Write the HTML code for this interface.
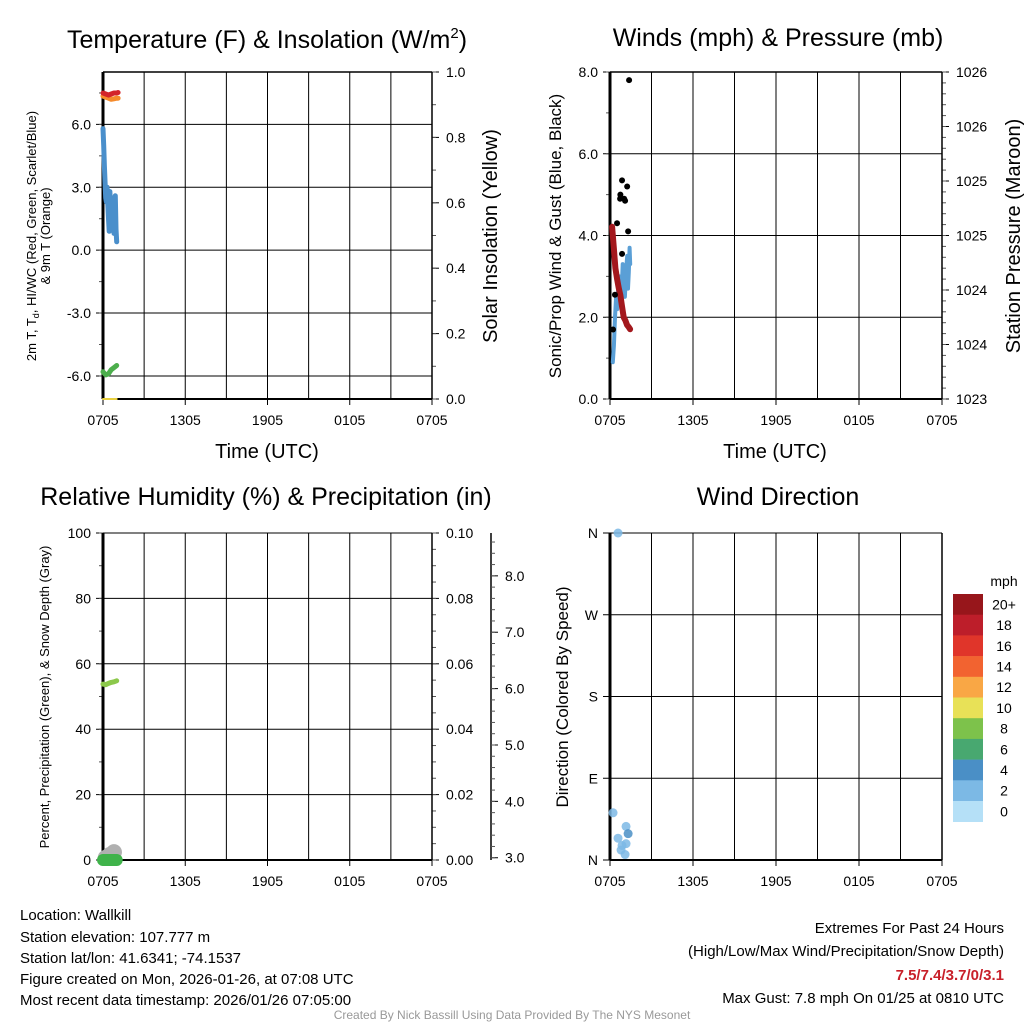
<!DOCTYPE html>
<html><head><meta charset="utf-8">
<style>
html,body{margin:0;padding:0;background:#fff;}
svg{display:block;font-family:"Liberation Sans",Arial,sans-serif;}
</style></head>
<body>
<svg id="chart" width="1024" height="1024" viewBox="0 0 1024 1024" xmlns="http://www.w3.org/2000/svg">
<g id="layer"></g>
<text x="267" y="48" font-size="25" text-anchor="middle">Temperature (F) &amp; Insolation (W/m<tspan font-size="15" dy="-10">2</tspan><tspan dy="10">)</tspan></text>
<text x="778" y="46" font-size="25" text-anchor="middle">Winds (mph) &amp; Pressure (mb)</text>
<text x="266" y="505" font-size="25" text-anchor="middle">Relative Humidity (%) &amp; Precipitation (in)</text>
<text x="778" y="505" font-size="25" text-anchor="middle">Wind Direction</text>
<text x="267" y="458" font-size="20" text-anchor="middle">Time (UTC)</text>
<text x="775" y="458" font-size="20" text-anchor="middle">Time (UTC)</text>
<text font-size="13" text-anchor="middle" transform="translate(36,236) rotate(-90)">2m T, T<tspan font-size="9" dy="3">d</tspan><tspan dy="-3">, HI/WC (Red, Green, Scarlet/Blue)</tspan></text>
<text font-size="13" text-anchor="middle" transform="translate(50,236) rotate(-90)">&amp; 9m T (Orange)</text>
<text font-size="20" text-anchor="middle" transform="translate(497,236) rotate(-90)">Solar Insolation (Yellow)</text>
<text font-size="17" text-anchor="middle" transform="translate(561,236) rotate(-90)">Sonic/Prop Wind &amp; Gust (Blue, Black)</text>
<text font-size="20" text-anchor="middle" transform="translate(1020,236) rotate(-90)">Station Pressure (Maroon)</text>
<text font-size="13" text-anchor="middle" transform="translate(49,697) rotate(-90)">Percent, Precipitation (Green), &amp; Snow Depth (Gray)</text>
<text font-size="17" text-anchor="middle" transform="translate(568,697) rotate(-90)">Direction (Colored By Speed)</text>
<g font-size="15">
<text x="20" y="920">Location: Wallkill</text>
<text x="20" y="942">Station elevation: 107.777 m</text>
<text x="20" y="963">Station lat/lon: 41.6341; -74.1537</text>
<text x="20" y="984">Figure created on Mon, 2026-01-26, at 07:08 UTC</text>
<text x="20" y="1005">Most recent data timestamp: 2026/01/26 07:05:00</text>
</g>
<g font-size="15" text-anchor="end">
<text x="1004" y="933">Extremes For Past 24 Hours</text>
<text x="1004" y="956">(High/Low/Max Wind/Precipitation/Snow Depth)</text>
<text x="1004" y="980" fill="#c8202a" font-weight="bold">7.5/7.4/3.7/0/3.1</text>
<text x="1004" y="1003">Max Gust: 7.8 mph On 01/25 at 0810 UTC</text>
</g>
<text x="512" y="1019" font-size="12" fill="#999" text-anchor="middle">Created By Nick Bassill Using Data Provided By The NYS Mesonet</text>
</svg>
<script>
// ---- data (hours since 0705 UTC) ----
var xTickLabels = ["0705","1305","1905","0105","0705"];
var tempTicks = [-6,-3,0,3,6];
var tempTickLabels = ["-6.0","-3.0","0.0","3.0","6.0"];
var solarTickLabels = ["0.0","0.2","0.4","0.6","0.8","1.0"];
var windTickLabels = ["0.0","2.0","4.0","6.0","8.0"];
var presTickLabels = ["1023","1024","1024","1025","1025","1026","1026"];
var rhTickLabels = ["0","20","40","60","80","100"];
var precipTickLabels = ["0.00","0.02","0.04","0.06","0.08","0.10"];
var snowTickLabels = ["3.0","4.0","5.0","6.0","7.0","8.0"];
var dirTickLabels = ["N","E","S","W","N"];

var hiT = [0,0.2,0.4,0.6,0.8,1.0,1.1];
var hiV = [7.5,7.45,7.4,7.45,7.5,7.5,7.52];
var t9T = [0,0.2,0.4,0.6,0.8,1.0,1.1];
var t9V = [7.35,7.3,7.25,7.2,7.22,7.25,7.25];
var tempT = [0,0.05,0.1,0.15,0.2,0.25,0.3,0.35,0.4,0.45,0.5,0.55,0.6,0.65,0.7,0.75,0.8,0.85,0.9,0.95,1.0];
var tempV = [5.8,5.0,4.0,3.2,2.5,2.3,3.0,2.2,1.5,0.9,2.8,2.0,1.2,2.0,1.5,2.5,0.8,1.8,2.6,1.0,0.4];
var dewT = [0,0.2,0.4,0.6,0.8,1.0];
var dewV = [-5.8,-5.95,-5.9,-5.7,-5.6,-5.5];
var solarT = [0,0.5,1.0];
var solarV = [0,0,0];

var windT = [0.2,0.28,0.36,0.44,0.52,0.6,0.68,0.76,0.84,0.92,1.0,1.08,1.16,1.24,1.3,1.36,1.42,1.46];
var windV = [0.9,1.3,2.0,2.5,2.2,2.8,3.0,2.4,2.6,3.3,2.6,2.5,3.1,3.5,2.7,3.1,3.7,3.3];
var gustT = [0.22,0.36,0.51,0.73,0.87,0.87,1.02,1.09,1.24,1.31,0.75,1.38];
var gustV = [1.7,2.55,4.3,4.9,5.35,3.55,4.9,4.85,5.2,4.1,5.0,7.8];
var presT = [0.15,0.27,0.39,0.51,0.63,0.75,0.87,0.99,1.11,1.23,1.35,1.45];
var presV = [1024.58,1024.4,1024.2,1024.1,1024.02,1023.95,1023.85,1023.75,1023.72,1023.68,1023.66,1023.64];

var rhT = [0,0.2,0.4,0.6,0.8,1.0];
var rhV = [53.8,53.6,54.0,54.3,54.5,54.8];
var precipT = [0,0.2,0.4,0.6,0.8,1.0];
var precipV = [0,0,0,0,0,0];
var snowT = [0.2,0.5,0.8];
var snowV = [3.0,3.05,3.1];

var dirT = [0.58,0.22,1.16,1.31,0.58,0.87,1.16,0.8,1.09];
var dirV = [360,52,37,29,24,16,18,11,6];
var dirSpd = [2,2,2,4,2,2,2,2,2];

var legendLabels = ["20+","18","16","14","12","10","8","6","4","2","0"];
var legendColors = ["#97161b","#bd1e2a","#e0352a","#f26330","#f9a745","#e8e157","#7dc24b","#48a870","#4a8fc6","#7cb9e5","#b5e0f7"];

// ---- drawing ----
var NS = "http://www.w3.org/2000/svg";
var layer = document.getElementById("layer");
function mk(tag, attrs, name, parent) {
  var el = document.createElementNS(NS, tag);
  for (var k in attrs) el.setAttribute(k, attrs[k]);
  
  
  (parent || layer).appendChild(el);
  return el;
}
function lin(d0, d1, r0, r1) { return function (v) { return r0 + (v - d0) / (d1 - d0) * (r1 - r0); }; }

function panel(p) {
  var g = mk("g", {}, p.name + "-panel");
  var xs = lin(0, 24, p.x0, p.x1);
  for (var h = 3; h <= 24; h += 3) {
    mk("line", {x1: xs(h), x2: xs(h), y1: p.y0, y2: p.y1, stroke: "#000", "stroke-width": 1}, p.name + "-vgrid", g);
  }
  for (var i = 0; i < xTickLabels.length; i++) {
    var tx = xs(i * 6);
    mk("line", {x1: tx, x2: tx, y1: p.y1, y2: p.y1 + 6, stroke: "#000", "stroke-width": 1}, p.name + "-x-tick", g);
    var t = mk("text", {x: tx, y: p.y1 + 26, "font-size": 14, "text-anchor": "middle"}, p.name + "-x-tick-label", g);
    t.textContent = xTickLabels[i];
  }
  return {g: g, xs: xs};
}
function hgrid(p, g, ys, vals, labels, side, minorStep, lo, hi, xAxis) {
  for (var i = 0; i < vals.length; i++) {
    var y = ys(vals[i]);
    if (side === "left") {
      mk("line", {x1: p.x0 - 7, x2: p.x1, y1: y, y2: y, stroke: "#000", "stroke-width": 1}, p.name + "-hgrid", g);
      var t = mk("text", {x: p.x0 - 12, y: y + 5, "font-size": 14, "text-anchor": "end"}, p.name + "-y-tick-label", g);
      t.textContent = labels[i];
    } else {
      var ax = xAxis || p.x1;
      mk("line", {x1: ax, x2: ax + 7, y1: y, y2: y, stroke: "#000", "stroke-width": 1}, p.name + "-right-tick", g);
      var t2 = mk("text", {x: ax + 14, y: y + 5, "font-size": 14}, p.name + "-right-tick-label", g);
      t2.textContent = labels[i];
    }
  }
  if (minorStep) {
    for (var v = lo; v <= hi + 1e-9; v += minorStep) {
      var yy = ys(v);
      if (side === "left") mk("line", {x1: p.x0 - 4, x2: p.x0, y1: yy, y2: yy, stroke: "#555"}, p.name + "-minor-tick", g);
      else { var a = xAxis || p.x1; mk("line", {x1: a, x2: a + 4, y1: yy, y2: yy, stroke: "#555"}, p.name + "-right-minor-tick", g); }
    }
  }
}
function poly(g, xs, ys, T, V, color, w, name) {
  var pts = [];
  for (var i = 0; i < T.length; i++) pts.push(xs(T[i]).toFixed(1) + "," + ys(V[i]).toFixed(1));
  mk("polyline", {points: pts.join(" "), fill: "none", stroke: color, "stroke-width": w, "stroke-linecap": "round", "stroke-linejoin": "round"}, name, g);
}
function dots(g, xs, ys, T, V, color, r, name) {
  for (var i = 0; i < T.length; i++) mk("circle", {cx: xs(T[i]), cy: ys(V[i]), r: r, fill: color}, name, g);
}
function frame(p, g, top) {
  mk("line", {x1: p.x0, x2: p.x1, y1: p.y1, y2: p.y1, stroke: "#000", "stroke-width": 2}, p.name + "-x-axis", g);
  if (top) mk("line", {x1: p.x0, x2: p.x1, y1: p.y0, y2: p.y0, stroke: "#000", "stroke-width": 1.5}, p.name + "-top-border", g);
  mk("line", {x1: p.x1, x2: p.x1, y1: p.y0, y2: p.y1, stroke: "#000", "stroke-width": 1.5}, p.name + "-right-axis", g);
  mk("line", {x1: p.x0, x2: p.x0, y1: p.y0, y2: p.y1, stroke: "#000", "stroke-width": 3}, p.name + "-left-axis", g);
}

(function () {
  var p = {name: "temperature", x0: 103, x1: 432, y0: 72, y1: 399};
  var P = panel(p), g = P.g, xs = P.xs;
  var ys = lin(-7.1, 8.5, p.y1, p.y0);
  hgrid(p, g, ys, tempTicks, tempTickLabels, "left", 1.5, -6, 7.5);
  var ss = lin(0, 1, p.y1, p.y0);
  hgrid(p, g, ss, [0, 0.2, 0.4, 0.6, 0.8, 1.0], solarTickLabels, "right", 0.1, 0, 1);
  frame(p, g, true);
  poly(g, xs, ss, solarT, solarV, "#e8d040", 2, "insolation-line");
  poly(g, xs, ys, t9T, t9V, "#f58a2b", 5, "9m-temp-line");
  poly(g, xs, ys, hiT, hiV, "#d3232a", 5, "heat-index-line");
  poly(g, xs, ys, tempT, tempV, "#4a8fcb", 5, "2m-temp-line");
  poly(g, xs, ys, dewT, dewV, "#4cae4c", 5, "dewpoint-line");
})();

(function () {
  var p = {name: "winds", x0: 610, x1: 942, y0: 72, y1: 399};
  var P = panel(p), g = P.g, xs = P.xs;
  var ys = lin(0, 8, p.y1, p.y0);
  hgrid(p, g, ys, [0, 2, 4, 6, 8], windTickLabels, "left", 1, 0, 8);
  var ps = lin(1023, 1026, p.y1, p.y0);
  hgrid(p, g, ps, [1023, 1023.5, 1024, 1024.5, 1025, 1025.5, 1026], presTickLabels, "right", 0.1, 1023, 1026);
  frame(p, g, true);
  poly(g, xs, ys, windT, windV, "#5a9fd6", 4, "wind-speed-line");
  poly(g, xs, ps, presT, presV, "#a3181d", 6, "pressure-line");
  dots(g, xs, ys, gustT, gustV, "#000", 3, "gust-point");
})();

(function () {
  var p = {name: "humidity", x0: 103, x1: 432, y0: 533, y1: 860};
  var P = panel(p), g = P.g, xs = P.xs;
  var ys = lin(0, 100, p.y1, p.y0);
  hgrid(p, g, ys, [0, 20, 40, 60, 80, 100], rhTickLabels, "left", 10, 0, 100);
  var pr = lin(0, 0.1, p.y1, p.y0);
  hgrid(p, g, pr, [0, 0.02, 0.04, 0.06, 0.08, 0.1], precipTickLabels, "right", 0.005, 0, 0.1);
  var sn = lin(2.96, 8.76, p.y1, p.y0);
  mk("line", {x1: 491, x2: 491, y1: p.y0, y2: p.y1, stroke: "#000", "stroke-width": 1.5}, "snow-depth-axis", g);
  hgrid(p, g, sn, [3, 4, 5, 6, 7, 8], snowTickLabels, "right", 0.2, 3, 8.6, 491);
  frame(p, g, false);
  poly(g, xs, ys, rhT, rhV, "#8cc84b", 5, "humidity-line");
  dots(g, xs, sn, snowT, snowV, "#b0b0b0", 8, "snow-depth-point");
  poly(g, xs, pr, precipT, precipV, "#3fb34a", 12, "precipitation-line");
})();

(function () {
  var p = {name: "direction", x0: 610, x1: 942, y0: 533, y1: 860};
  var P = panel(p), g = P.g, xs = P.xs;
  var ys = lin(0, 360, p.y1, p.y0);
  hgrid(p, g, ys, [0, 90, 180, 270, 360], dirTickLabels, "left", 0, 0, 0);
  frame(p, g, false);
  for (var i = 0; i < dirT.length; i++) {
    var idx = 10 - Math.min(10, Math.round(dirSpd[i] / 2));
    mk("circle", {cx: xs(dirT[i]), cy: ys(dirV[i]), r: 4.5, fill: legendColors[idx], opacity: 0.85}, "direction-point", g);
  }
  var lg = mk("g", {}, "speed-legend");
  var lt = mk("text", {x: 1004, y: 586, "font-size": 14, "text-anchor": "middle"}, "legend-unit", lg);
  lt.textContent = "mph";
  var bh = 20.7;
  for (var j = 0; j < legendLabels.length; j++) {
    mk("rect", {x: 953, y: 594 + j * bh, width: 30, height: bh + 0.3, fill: legendColors[j]}, "legend-swatch", lg);
    var tt = mk("text", {x: 1004, y: 594 + j * bh + bh / 2 + 5, "font-size": 14, "text-anchor": "middle"}, "legend-label", lg);
    tt.textContent = legendLabels[j];
  }
})();
</script>
</body></html>
